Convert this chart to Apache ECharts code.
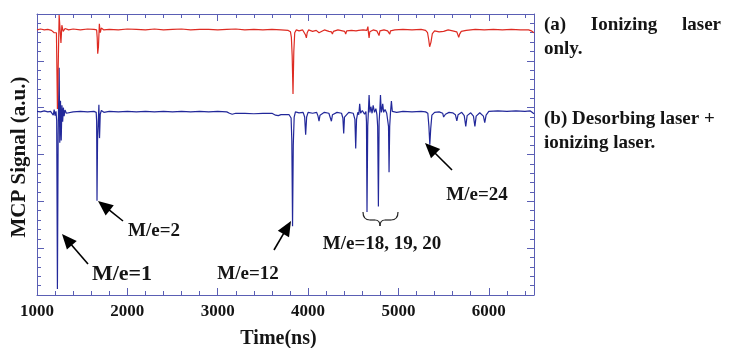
<!DOCTYPE html>
<html><head><meta charset="utf-8">
<script src="https://cdn.jsdelivr.net/npm/echarts@6/dist/echarts.min.js"></script>
<style>html,body{margin:0;padding:0;background:#fff}#c{width:733px;height:348px}</style>
</head><body><div id="c"></div><script>
// ---- data (time in ns, signal in arbitrary units) ----
const xTickValues = [1000, 2000, 3000, 4000, 5000, 6000];
const seriesNames = ['(a) Ionizing laser only.', '(b) Desorbing laser + ionizing laser.'];
const signalA = [
[1000,5.66],[1040,5.68],[1080,5.66],[1120,5.67],[1160,5.65],[1190,5.6],[1205,5.56],[1215,5.6],[1226,3.97],[1245,5.98],[1255,5.68],[1265,5.38],[1275,5.76],[1290,5.63],[1310,5.69],[1350,5.66],[1400,5.68],[1480,5.66],[1560,5.68],[1630,5.67],[1660,5.66],[1666,5.5],[1672,5.15],[1680,5.3],[1690,5.79],[1700,5.6],[1712,5.7],[1740,5.66],[1800,5.67],[1900,5.66],[2000,5.68],[2100,5.67],[2200,5.66],[2300,5.68],[2400,5.66],[2500,5.67],[2600,5.68],[2700,5.66],[2800,5.67],[2900,5.67],[3000,5.66],[3100,5.67],[3200,5.68],[3300,5.66],[3400,5.67],[3500,5.66],[3600,5.67],[3700,5.66],[3780,5.65],[3805,5.62],[3815,5.5],[3824,5.1],[3833,4.29],[3842,5.2],[3852,5.6],[3870,5.66],[3900,5.64],[3940,5.66],[3962,5.64],[3972,5.55],[3981,5.49],[3990,5.6],[4005,5.66],[4050,5.63],[4090,5.65],[4112,5.63],[4121,5.6],[4130,5.64],[4180,5.66],[4230,5.63],[4258,5.62],[4269,5.57],[4280,5.63],[4330,5.66],[4380,5.64],[4405,5.63],[4416,5.57],[4427,5.64],[4480,5.65],[4530,5.64],[4548,5.6],[4560,5.65],[4610,5.66],[4650,5.65],[4662,5.73],[4668,5.6],[4675,5.49],[4683,5.62],[4720,5.66],[4760,5.64],[4775,5.6],[4785,5.54],[4795,5.64],[4840,5.66],[4880,5.64],[4898,5.6],[4904,5.57],[4912,5.64],[4960,5.66],[5050,5.67],[5150,5.66],[5250,5.67],[5300,5.65],[5322,5.6],[5335,5.45],[5345,5.3],[5351,5.27],[5360,5.4],[5375,5.58],[5400,5.64],[5450,5.62],[5500,5.63],[5550,5.66],[5600,5.64],[5645,5.62],[5657,5.56],[5667,5.5],[5677,5.57],[5695,5.63],[5750,5.65],[5850,5.67],[5950,5.66],[6050,5.67],[6150,5.66],[6250,5.67],[6350,5.66],[6440,5.66],[6470,5.64],[6500,5.6]
];
const signalB = [
[1000,3.92],[1040,3.91],[1080,3.93],[1120,3.91],[1150,3.92],[1170,3.88],[1180,3.84],[1190,3.96],[1200,3.83],[1210,3.92],[1218,3.72],[1226,0.13],[1234,3.4],[1245,4.85],[1252,3.25],[1260,4.15],[1268,3.3],[1276,4.05],[1284,3.7],[1292,4.0],[1300,3.82],[1310,3.95],[1325,3.88],[1345,3.92],[1400,3.91],[1480,3.92],[1560,3.91],[1630,3.92],[1655,3.9],[1660,3.7],[1664,2.01],[1670,3.3],[1678,3.7],[1685,4.06],[1692,3.35],[1700,3.86],[1712,3.94],[1740,3.9],[1800,3.92],[1900,3.91],[2000,3.92],[2100,3.91],[2200,3.92],[2300,3.91],[2400,3.92],[2500,3.91],[2600,3.92],[2700,3.91],[2800,3.92],[2900,3.91],[3000,3.92],[3100,3.91],[3130,3.88],[3160,3.86],[3200,3.88],[3300,3.88],[3400,3.87],[3500,3.88],[3600,3.88],[3640,3.84],[3670,3.83],[3700,3.85],[3790,3.85],[3812,3.78],[3820,3.3],[3828,1.47],[3836,3.2],[3846,3.8],[3860,3.91],[3900,3.89],[3945,3.9],[3962,3.8],[3973,3.42],[3984,3.8],[4000,3.9],[4050,3.88],[4095,3.9],[4110,3.82],[4121,3.71],[4132,3.84],[4180,3.9],[4230,3.88],[4246,3.84],[4258,3.71],[4270,3.85],[4320,3.9],[4370,3.88],[4385,3.78],[4394,3.45],[4403,3.8],[4450,3.9],[4500,3.88],[4518,3.75],[4527,3.13],[4536,3.75],[4550,3.9],[4561,3.85],[4571,4.08],[4581,3.88],[4600,3.94],[4625,3.86],[4640,3.92],[4646,3.7],[4652,1.77],[4660,3.6],[4668,3.95],[4675,4.27],[4684,3.9],[4695,4.02],[4708,3.88],[4720,4.05],[4735,3.9],[4750,3.98],[4762,3.85],[4770,3.6],[4778,1.89],[4786,3.7],[4794,3.95],[4801,4.27],[4810,3.9],[4818,3.97],[4826,4.08],[4836,3.9],[4852,3.96],[4870,3.88],[4884,3.85],[4890,3.6],[4896,2.62],[4903,3.6],[4912,3.9],[4922,4.14],[4932,3.92],[4950,3.93],[4980,3.9],[5050,3.92],[5150,3.91],[5250,3.92],[5300,3.91],[5325,3.88],[5337,3.6],[5347,3.21],[5357,3.55],[5370,3.84],[5400,3.9],[5450,3.91],[5490,3.88],[5500,3.8],[5509,3.76],[5520,3.86],[5560,3.9],[5600,3.89],[5630,3.85],[5646,3.72],[5660,3.85],[5700,3.9],[5728,3.83],[5745,3.6],[5760,3.83],[5800,3.89],[5830,3.82],[5846,3.6],[5860,3.82],[5900,3.89],[5940,3.82],[5955,3.68],[5970,3.84],[6000,3.92],[6100,3.93],[6200,3.92],[6300,3.93],[6400,3.92],[6460,3.93],[6480,3.9],[6500,3.87]
];
const peakLabels = ['M/e=1', 'M/e=2', 'M/e=12', 'M/e=18, 19, 20', 'M/e=24'];

// ---- styling ----
const FONT = '"Liberation Serif", "Times New Roman", serif';
const AXIS = '#5a5eb4';
const RED = '#de2b22';
const BLUE = '#22289a';

const chart = echarts.init(document.getElementById('c'), null, {renderer: 'canvas'});

function xAx(pos, show) {
  return {
    type: 'value', position: pos, min: 1000, max: 6500, interval: 1000,
    axisLine: {show: true, onZero: false, lineStyle: {color: AXIS, width: 1}},
    axisTick: {show: true, inside: true, length: 7, lineStyle: {color: AXIS, width: 1}},
    minorTick: {show: true, splitNumber: 5, length: 4, lineStyle: {color: AXIS, width: 1}},
    splitLine: {show: false},
    axisLabel: {show: show, color: '#151515', fontFamily: FONT, fontWeight: 'bold', fontSize: 17, margin: 8,
      showMaxLabel: false,
      formatter: v => xTickValues.includes(v) ? String(v) : ''},
    name: show ? 'Time(ns)' : '', nameLocation: 'middle', nameGap: 34,
    nameTextStyle: {color: '#151515', fontFamily: FONT, fontWeight: 'bold', fontSize: 20, padding: [0, 14, 0, 0]}
  };
}
function yAx(pos) {
  return {
    type: 'value', position: pos, min: 0, max: 6, interval: 1,
    axisLine: {show: true, onZero: false, lineStyle: {color: AXIS, width: 1}},
    axisTick: {show: true, inside: true, length: 7, lineStyle: {color: AXIS, width: 1}},
    minorTick: {show: true, splitNumber: 5, length: 4, lineStyle: {color: AXIS, width: 1}},
    splitLine: {show: false},
    axisLabel: {show: false}
  };
}

function arrow(x1, y1, x2, y2) {
  const dx = x2 - x1, dy = y2 - y1, L = Math.hypot(dx, dy), ux = dx / L, uy = dy / L;
  const hl = 15, hw = 6.5;
  const bx = x2 - ux * hl, by = y2 - uy * hl;
  return [
    {type: 'line', shape: {x1: x1, y1: y1, x2: bx + ux * 2, y2: by + uy * 2}, style: {stroke: '#000', lineWidth: 1.6}, z: 100},
    {type: 'polygon', shape: {points: [[x2, y2], [bx - uy * hw, by + ux * hw], [bx + uy * hw, by - ux * hw]]}, style: {fill: '#000'}, z: 100}
  ];
}
function txt(s, x, y, size, align) {
  return {type: 'text', x: x, y: y, z: 100, style: {text: s, fill: '#151515', font: 'bold ' + size + 'px ' + FONT,
    textAlign: align || 'center', textVerticalAlign: 'middle'}};
}
function qcurve(x1, y1, cx, cy, x2, y2) {
  return {type: 'bezierCurve', z: 100, shape: {x1: x1, y1: y1, cpx1: cx, cpy1: cy, x2: x2, y2: y2},
    style: {stroke: '#222', lineWidth: 1.2, fill: null}};
}
function seg(x1, y1, x2, y2) {
  return {type: 'line', z: 100, shape: {x1: x1, y1: y1, x2: x2, y2: y2}, style: {stroke: '#222', lineWidth: 1.2}};
}

const yTitle = txt('MCP Signal (a.u.)', 20, 157, 21);
yTitle.rotation = Math.PI / 2;

const graphics = [].concat(
  arrow(88, 264, 62, 234),
  arrow(123, 221, 98, 201),
  arrow(274, 250, 291, 221),
  arrow(452, 170, 425, 143),
  [
    yTitle,
    txt(peakLabels[0], 122, 274, 22),
    txt(peakLabels[1], 154, 231, 19),
    txt(peakLabels[2], 248, 274, 19),
    txt(peakLabels[3], 382, 244, 19),
    txt(peakLabels[4], 477, 195, 19),
    qcurve(363, 212, 363, 220, 370, 220),
    seg(370, 220, 375, 220),
    qcurve(375, 220, 380, 220, 380, 226),
    qcurve(380, 226, 380, 220, 385, 220),
    seg(385, 220, 391, 220),
    qcurve(391, 220, 398, 220, 398, 212),
    txt('(a)', 544, 25, 19, 'left'),
    txt('Ionizing', 624, 25, 19, 'center'),
    txt('laser', 721, 25, 19, 'right'),
    txt('only.', 544, 49, 19, 'left'),
    txt('(b) Desorbing laser +', 544, 119, 19, 'left'),
    txt('ionizing laser.', 544, 143, 19, 'left')
  ]
);

chart.setOption({
  animation: false,
  backgroundColor: '#fff',
  grid: {left: 37, right: 199, top: 14, bottom: 53, containLabel: false, outerBoundsMode: 'none'},
  xAxis: [xAx('bottom', true), xAx('top', false)],
  yAxis: [yAx('left'), yAx('right')],
  series: [
    {name: seriesNames[0], type: 'line', xAxisIndex: 0, yAxisIndex: 0, data: signalA, showSymbol: false, symbol: 'none',
      lineStyle: {color: RED, width: 1.2}, itemStyle: {color: RED}, z: 3},
    {name: seriesNames[1], type: 'line', xAxisIndex: 0, yAxisIndex: 0, data: signalB, showSymbol: false, symbol: 'none',
      lineStyle: {color: BLUE, width: 1.2}, itemStyle: {color: BLUE}, z: 2}
  ],
  graphic: graphics
});
</script></body></html>
